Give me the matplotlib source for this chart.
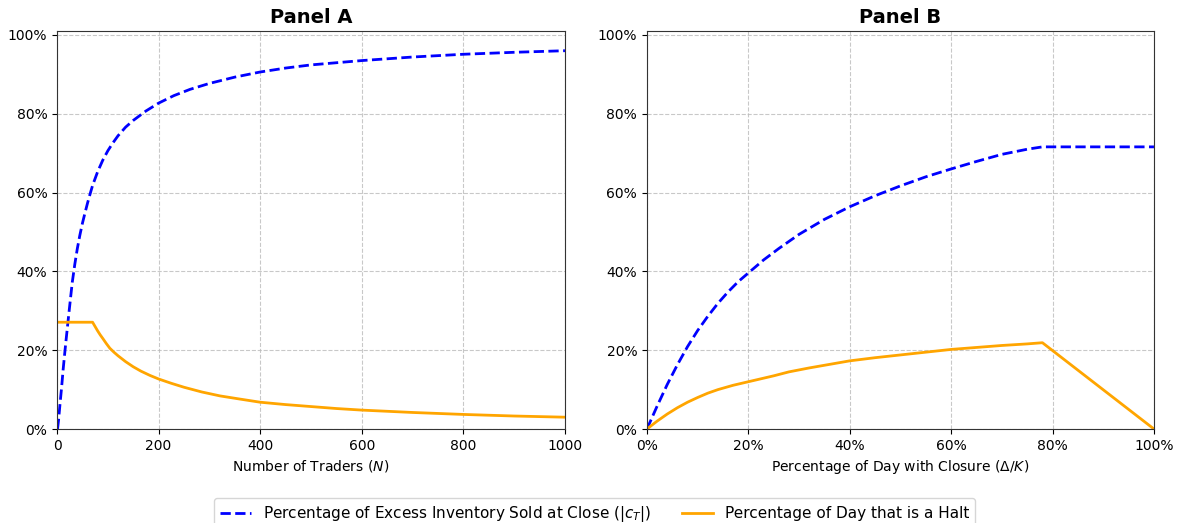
import matplotlib
matplotlib.use("Agg")
import matplotlib.pyplot as plt
from matplotlib.ticker import PercentFormatter

# Panel A: number of traders
traders_blue = [1, 3, 6, 9, 12, 15, 18, 22, 26, 30, 35, 40, 45, 50, 55, 60, 65, 70, 80, 90,
                100, 110, 120, 135, 150, 175, 200, 230, 262, 300, 350, 400, 450, 500, 600,
                700, 800, 900, 1000]
sold_a = [0, 2.2, 6.5, 10.5, 15.0, 19.0, 22.8, 27.7, 32.5, 37.2, 41.8, 45.8, 49.2, 52.2, 54.8,
          57.3, 59.6, 61.8, 65.3, 68.2, 70.6, 72.6, 74.4, 76.6, 78.3, 80.7, 82.7, 84.6, 86.2,
          87.7, 89.3, 90.6, 91.6, 92.4, 93.5, 94.4, 95.1, 95.6, 96.0]

traders_orange = [0, 70, 75, 80, 85, 90, 97, 104, 112, 120, 135, 150, 165, 183, 200, 225, 250,
                  285, 321, 360, 400, 450, 500, 550, 600, 700, 800, 900, 1000]
halt_a = [27.1, 27.1, 26.0, 24.9, 23.9, 23.0, 21.7, 20.5, 19.5, 18.6, 17.1, 15.8, 14.7, 13.6,
          12.7, 11.6, 10.6, 9.4, 8.4, 7.6, 6.8, 6.2, 5.7, 5.2, 4.8, 4.2, 3.7, 3.3, 3.0]

# Panel B: share of the day with a closure (%)
closure_blue = [0, 2, 4, 6, 8, 10, 12, 14, 16, 18, 20, 23, 26, 30, 35, 40, 45, 50, 55, 60, 65,
                70, 75, 78, 100]
sold_b = [0, 5.8, 11.3, 16.3, 20.9, 25.0, 28.6, 31.9, 34.8, 37.4, 39.6, 42.9, 45.8, 49.4, 53.2,
          56.4, 59.2, 61.7, 64.0, 66.0, 67.9, 69.7, 71.0, 71.6, 71.6]

closure_orange = [0, 2, 4, 6, 8, 10, 12, 14, 17, 20, 25, 28, 32, 36, 40, 45, 50, 55, 60, 65, 70,
                  75, 78, 100]
halt_b = [0, 2.0, 3.8, 5.4, 6.8, 8.0, 9.1, 10.0, 11.1, 12.0, 13.5, 14.5, 15.5, 16.4, 17.3, 18.1,
          18.8, 19.5, 20.2, 20.7, 21.2, 21.6, 21.9, 0]

blue_label = r"Percentage of Excess Inventory Sold at Close ($|c_T|$)"
orange_label = "Percentage of Day that is a Halt"

fig = plt.figure(figsize=(11.78, 5.23), dpi=100)
ax1 = fig.add_axes([0.0484, 0.1797, 0.4312, 0.761])
ax2 = fig.add_axes([0.5492, 0.1797, 0.4304, 0.761])

ax1.plot(traders_blue, [v / 100 for v in sold_a], "--", color="blue", lw=2, label=blue_label)
ax1.plot(traders_orange, [v / 100 for v in halt_a], "-", color="orange", lw=2, label=orange_label)
ax1.set_xlim(0, 1000)
ax1.set_xlabel(r"Number of Traders ($N$)", fontsize=10)
ax1.set_title("Panel A", fontsize=14, fontweight="bold")

ax2.plot([v / 100 for v in closure_blue], [v / 100 for v in sold_b], "--", color="blue", lw=2)
ax2.plot([v / 100 for v in closure_orange], [v / 100 for v in halt_b], "-", color="orange", lw=2)
ax2.set_xlim(0, 1)
ax2.xaxis.set_major_formatter(PercentFormatter(1.0, decimals=0))
ax2.set_xlabel(r"Percentage of Day with Closure ($\Delta/K$)", fontsize=10)
ax2.set_title("Panel B", fontsize=14, fontweight="bold")

for ax in (ax1, ax2):
    ax.set_ylim(0, 1.01)
    ax.set_yticks([0, 0.2, 0.4, 0.6, 0.8, 1.0])
    ax.yaxis.set_major_formatter(PercentFormatter(1.0, decimals=0))
    ax.grid(True, linestyle="--", color="#bbbbbb", alpha=0.8)
    ax.tick_params(labelsize=10)
    for s in ax.spines.values():
        s.set_color("#333333")

fig.legend(loc="upper center", bbox_to_anchor=(0.505, 0.048), ncol=2, fontsize=11,
           frameon=True, fancybox=True, borderaxespad=0)

fig.savefig("out.png", dpi=100)
